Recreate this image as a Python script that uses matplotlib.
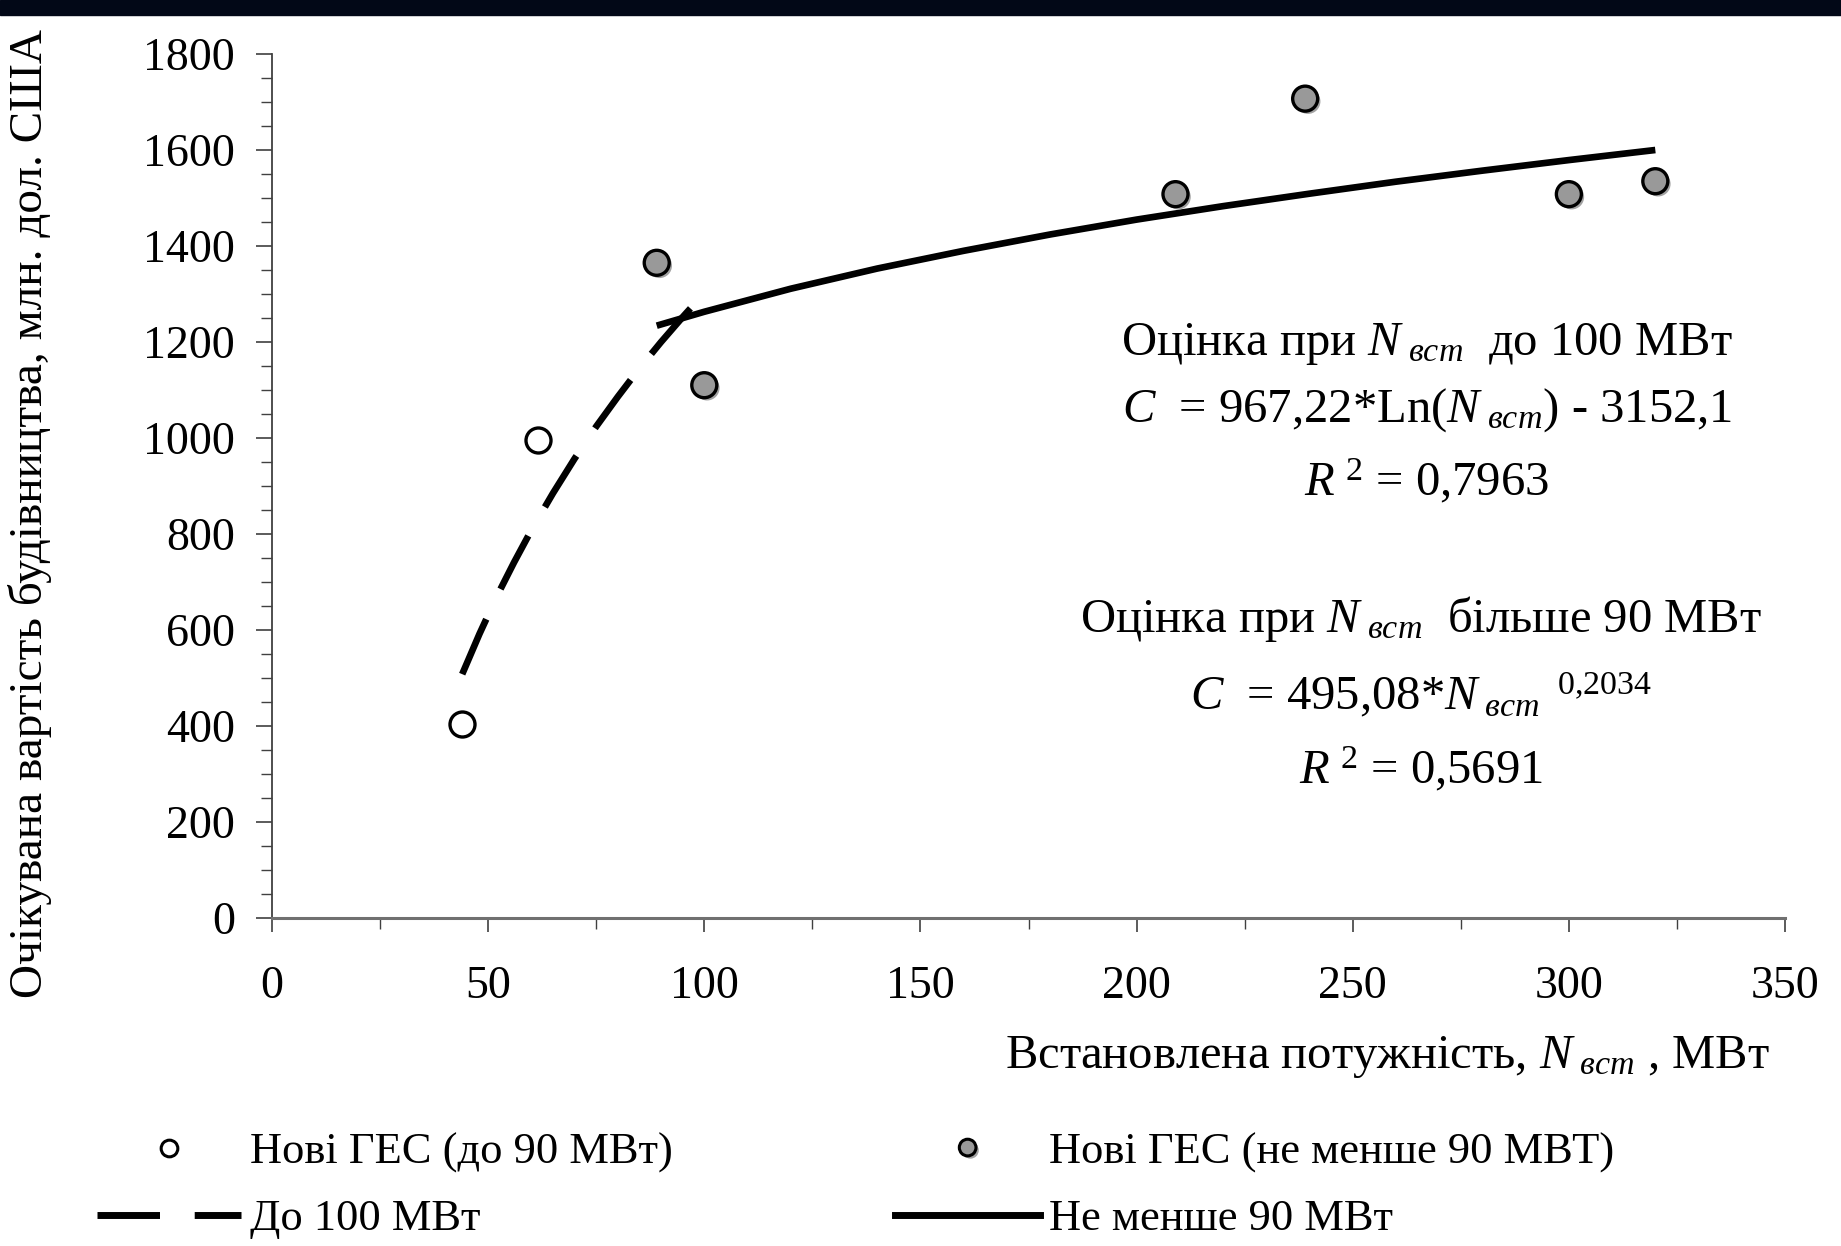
import matplotlib
matplotlib.use('Agg')
import matplotlib.pyplot as plt
import matplotlib.patheffects as pe
from matplotlib.lines import Line2D
from matplotlib.patches import Rectangle
from matplotlib.ticker import MultipleLocator

plt.rcParams['font.family'] = ['Liberation Serif', 'DejaVu Serif']
plt.rcParams['mathtext.fontset'] = 'custom'
plt.rcParams['mathtext.rm'] = 'Liberation Serif'
plt.rcParams['mathtext.it'] = 'Liberation Serif:italic'
plt.rcParams['mathtext.bf'] = 'Liberation Serif:bold'

# New HPPs below 90 MW (open circles)
small_power = [44, 61.5]
small_cost = [405, 995]

# New HPPs of at least 90 MW (grey circles)
big_power = [89, 100, 209, 239, 300, 320]
big_cost = [1365, 1110, 1508, 1707, 1508, 1535]

# trend "до 100 МВт"
dash_x = [44, 48, 52, 56, 60, 65, 70, 75, 80, 85, 90, 95, 100]
dash_y = [508, 592, 670, 741, 808, 885, 957, 1024, 1086, 1145, 1200, 1252, 1302]

# trend "не менше 90 МВт"
solid_x = [89, 100, 120, 140, 160, 180, 200, 220, 240, 260, 280, 300, 320]
solid_y = [1234, 1263, 1311, 1353, 1390, 1424, 1455, 1483, 1509, 1534, 1557, 1579, 1600]

W, H = 1841, 1246
fig = plt.figure(figsize=(W / 100, H / 100), dpi=100)
fig.patches.append(Rectangle((0, 1 - 15 / H), 1, 15 / H, transform=fig.transFigure,
                             color='#020817', zorder=10))

ax = fig.add_axes([272 / W, 1 - 918 / H, (1785 - 272) / W, (918 - 54) / H])

shadow = [pe.SimplePatchShadow(offset=(2, -2), shadow_rgbFace='0.55', alpha=0.8), pe.Normal()]

ax.plot(dash_x, dash_y, color='black', lw=4.8, linestyle=(0, (9, 5)),
        solid_capstyle='butt', dash_capstyle='butt', zorder=3)
ax.plot(solid_x, solid_y, color='black', lw=4.8, solid_capstyle='butt', zorder=3)
ax.plot(small_power, small_cost, 'o', ms=18, mfc='white', mec='black', mew=2.4,
        linestyle='none', zorder=4)
ax.plot(big_power, big_cost, 'o', ms=18, mfc='#999999', mec='black', mew=2.4,
        linestyle='none', zorder=4, path_effects=shadow)

ax.set_xlim(0, 350)
ax.set_ylim(0, 1800)
ax.xaxis.set_major_locator(MultipleLocator(50))
ax.xaxis.set_minor_locator(MultipleLocator(25))
ax.yaxis.set_major_locator(MultipleLocator(200))
ax.yaxis.set_minor_locator(MultipleLocator(50))

for s in ['top', 'right']:
    ax.spines[s].set_visible(False)
ax.spines['left'].set_color('#404040')
ax.spines['left'].set_linewidth(1.3)
ax.spines['bottom'].set_color('#707070')
ax.spines['bottom'].set_linewidth(2.2)

ax.tick_params(axis='y', which='major', length=11.5, width=1.2, color='#404040',
               labelsize=33, pad=15)
ax.tick_params(axis='y', which='minor', length=8, width=1.0, color='#404040')
ax.tick_params(axis='x', which='major', length=10, width=1.2, color='#404040',
               labelsize=33, pad=24)
ax.tick_params(axis='x', which='minor', length=8, width=1.0, color='#404040')

NV = '$\\mathit{N}_{\\ \\mathit{вст}}$'

fig.text(1770 / W, 1 - 1057 / H, 'Встановлена потужність, ' + NV + ' , МВт',
         fontsize=35, ha='right', va='center')
fig.text(30 / W, 1 - 998 / H, 'Очікувана вартість будівництва, млн. дол. США',
         fontsize=34, rotation=90, ha='center', va='bottom')

notes = [
    (1427, 344, 'Оцінка при ' + NV + '  до 100 МВт'),
    (1427, 410, '$\\mathit{C}$  = 967,22*Ln(' + NV + ') - 3152,1'),
    (1427, 481, '$\\mathit{R}^{\\ 2}$ = 0,7963'),
    (1421, 619, 'Оцінка при ' + NV + '  більше 90 МВт'),
    (1421, 695, '$\\mathit{C}$  = 495,08*$\\mathit{N}_{\\ \\mathit{вст}}{}^{\\ \\ 0{,}2034}$'),
    (1421, 769, '$\\mathit{R}^{\\ 2}$ = 0,5691'),
]
for x, y, t in notes:
    fig.text(x / W, 1 - y / H, t, fontsize=35, ha='center', va='center')

handles = [
    Line2D([], [], marker='o', ms=12, mfc='white', mec='black', mew=2.2, linestyle='none'),
    Line2D([], [], color='black', lw=5, linestyle=(0, (9, 5))),
    Line2D([], [], marker='o', ms=12, mfc='#999999', mec='black', mew=2.2, linestyle='none',
           path_effects=shadow),
    Line2D([], [], color='black', lw=5),
]
labels = ['Нові ГЕС (до 90 МВт)', 'До 100 МВт', 'Нові ГЕС (не менше 90 МВТ)', 'Не менше 90 МВт']
fig.legend(handles, labels, ncol=2, loc='upper left', frameon=False,
           bbox_to_anchor=(57 / W, 1 - 1092 / H), fontsize=32,
           handlelength=3.25, handletextpad=0.2, columnspacing=5.0, labelspacing=0.6)

fig.savefig('out.png', dpi=100)
